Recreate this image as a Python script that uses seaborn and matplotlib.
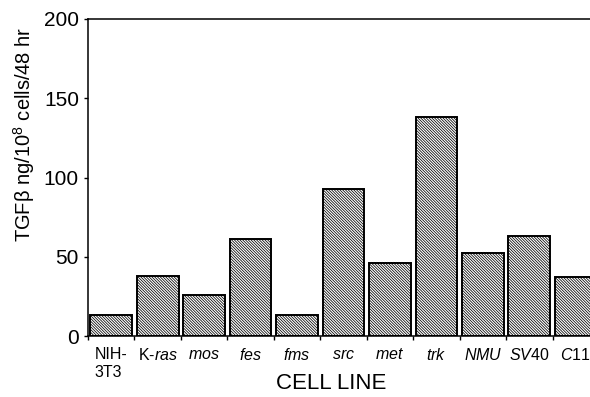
import matplotlib
matplotlib.use("Agg")
import matplotlib.pyplot as plt
import seaborn as sns
import pandas as pd
import numpy as np

cell_lines = ["NIH-\n3T3", "K-$\\mathit{ras}$", "$\\mathit{mos}$", "$\\mathit{fes}$", "$\\mathit{fms}$",
              "$\\mathit{src}$", "$\\mathit{met}$", "$\\mathit{trk}$", "$\\mathit{NMU}$",
              "$\\mathit{SV40}$", "$\\mathit{C11}$"]
tgf_values = [13, 38, 26, 61, 13, 93, 46, 138, 52.5, 63, 37.5]
y_ticks = [0, 50, 100, 150, 200]

sns.set_theme(style="white")
plt.rcParams['font.family'] = ['Liberation Sans', 'DejaVu Sans']
plt.rcParams['mathtext.fontset'] = 'custom'
plt.rcParams['mathtext.rm'] = 'Liberation Sans'
plt.rcParams['mathtext.it'] = 'Liberation Sans:italic'
plt.rcParams['mathtext.bf'] = 'Liberation Sans:bold'
plt.rcParams['hatch.linewidth'] = 0.55
plt.rcParams['text.color'] = 'black'
plt.rcParams['axes.labelcolor'] = 'black'
plt.rcParams['xtick.color'] = 'black'
plt.rcParams['ytick.color'] = 'black'

df = pd.DataFrame({"cell": [f"c{i}" for i in range(len(tgf_values))], "value": tgf_values})

fig = plt.figure(figsize=(5.9, 3.97), dpi=100)
ax = fig.add_axes([88/590, 1-336/397, 511/590, 317/397])
sns.barplot(data=df, x="cell", y="value", color="white", width=0.9,
            edgecolor="black", linewidth=1.4, saturation=1, ax=ax)
for p in ax.patches:
    p.set_hatch("\\" * 12)
    p.set_facecolor("white")
    p.set_edgecolor("black")

ax.set_ylim(0, 200)
ax.set_xlim(-0.5, len(tgf_values) - 0.5)
ax.set_yticks(y_ticks)
ax.set_yticklabels([str(v) for v in y_ticks], fontsize=15)

n = len(tgf_values)
ax.set_xticks(np.arange(n + 1) - 0.5)
ax.set_xticklabels([""] * (n + 1))
ax.set_xticks(np.arange(n), minor=True)
ax.set_xticklabels(cell_lines, minor=True, fontsize=11.5, ha="center", multialignment="left")
ax.tick_params(axis="x", which="major", direction="out", length=3, width=1, bottom=True)
ax.tick_params(axis="x", which="minor", length=0, pad=8, bottom=True)
ax.tick_params(axis="y", direction="out", length=3, width=1, left=True, pad=3.5)

for s in ["left", "bottom", "top"]:
    ax.spines[s].set_visible(True)
    ax.spines[s].set_color("black")
    ax.spines[s].set_linewidth(1.1)
ax.spines["right"].set_visible(False)

ax.set_xlabel("CELL LINE", fontsize=16)
ax.xaxis.set_label_coords(0.4755, -0.118)
ax.set_ylabel("TGF\u03b2 ng/10$^8$ cells/48 hr", fontsize=14.5)
ax.yaxis.set_label_coords(-0.10, 0.637)

fig.savefig("out.png", dpi=100)
